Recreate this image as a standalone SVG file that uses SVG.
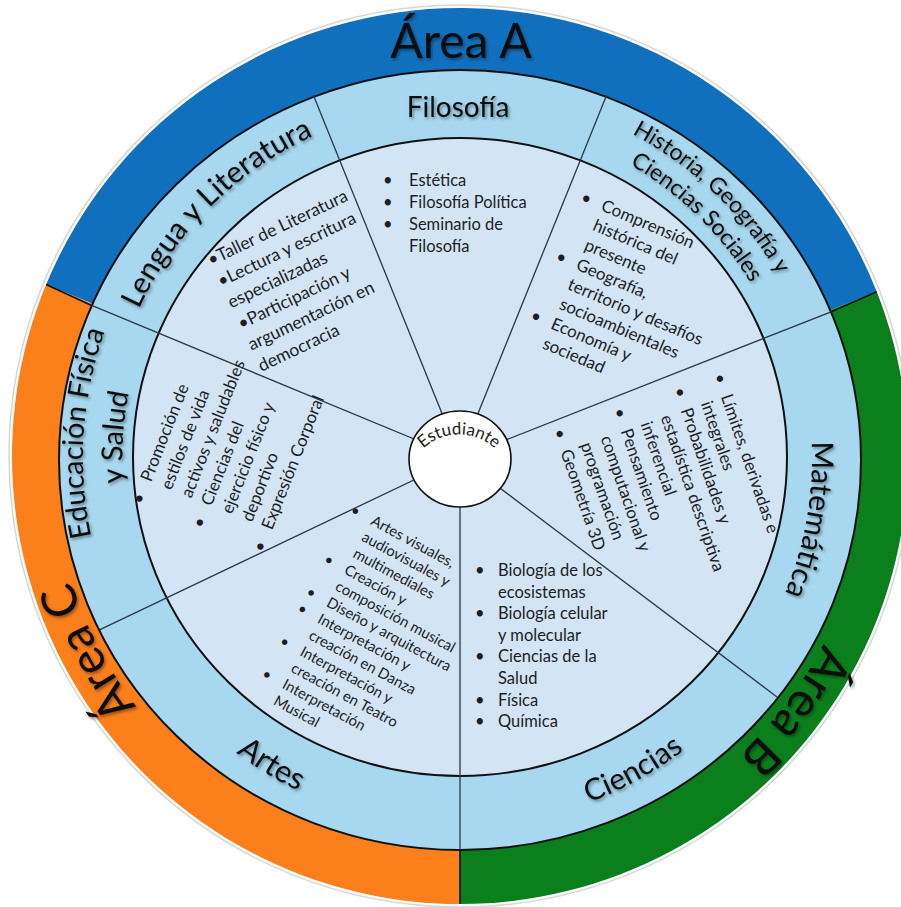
<svg xmlns="http://www.w3.org/2000/svg" width="901" height="907" viewBox="0 0 901 907">
<defs>
<style>
text{font-family:Lato,"Open Sans","Liberation Sans",sans-serif;}
.area{font-size:48px;fill:#0a0a0a;filter:url(#sh);}
.lbl{font-size:30px;fill:#111;filter:url(#sh);}
.it{font-size:17px;fill:#1e1e1e;}
.sm{font-size:14.8px;fill:#1e1e1e;}
.fl{font-size:16.5px;fill:#1e1e1e;}
.spoke{stroke:#2c3844;stroke-width:1.3;fill:none;}
.bound{stroke:#111;stroke-width:1.6;fill:none;}
.ring{stroke:#111;stroke-width:2;}
</style>
<filter id="sh" x="-20%" y="-20%" width="140%" height="160%">
<feDropShadow dx="1.5" dy="2" stdDeviation="1.4" flood-color="#000" flood-opacity="0.4"/>
</filter>
<path id="p-lengua" d="M107.5,425.9 A354,354 0 0 1 430.4,105.2"/>
<path id="p-hist1" d="M485.6,91.9 A367,367 0 0 1 825,419.6"/>
<path id="p-hist2" d="M486.5,120.1 A339,339 0 0 1 797.5,425.5"/>
<path id="p-mate" d="M764.8,282 A352,352 0 0 1 686.3,727.6"/>
<path id="p-cien" d="M453.6,825.9 A368,368 0 0 0 775.4,647.5"/>
<path id="p-artes" d="M134.5,634 A370,370 0 0 0 449.7,827.9"/>
<path id="p-edu1" d="M155.8,680.7 A377,377 0 0 1 188,196.9"/>
<path id="p-edu2" d="M188.3,659 A337,337 0 0 1 215.5,225.9"/>
<path id="p-areab" d="M867.4,436.6 A408,408 0 0 1 551.8,855.6"/>
<path id="p-areac" d="M303.9,834.9 A408,408 0 0 1 61.7,369.7"/>
<path id="p-est" d="M407.2,477.9 A52.6,52.6 0 0 1 510.8,477.9"/>
</defs>
<rect width="901" height="907" fill="#ffffff"/>

<circle cx="460" cy="456" r="451" fill="none" stroke="#d6d6d6" stroke-width="1.5"/>

<g id="area-a">
<path d="M460,456 L46.1,284.6 A448,448 0 0 1 876.8,291.8 Z" fill="#1170be"/>
</g>
<g id="area-b">
<path d="M460,456 L876.8,291.8 A448,448 0 0 1 460,904 Z" fill="#0b7f1c"/>
</g>
<g id="area-c">
<path d="M460,456 L460,904 A448,448 0 0 1 46.1,284.6 Z" fill="#fb7f1b"/>
</g>

<g id="rings">
<ellipse cx="460" cy="460" rx="401" ry="390" fill="#a8d8f0" class="ring"/>
<ellipse cx="460" cy="457" rx="327" ry="319" fill="#d3e4f5" class="ring"/>
</g>

<g id="connectors">
<line class="spoke" x1="460" y1="458" x2="313.3" y2="95"/>
<line class="spoke" x1="460" y1="458" x2="606.7" y2="95"/>
<line class="spoke" x1="460" y1="458" x2="831.7" y2="311.6"/>
<line class="spoke" x1="460" y1="458" x2="777" y2="696.9"/>
<line class="spoke" x1="460" y1="458" x2="460" y2="850"/>
<line class="spoke" x1="460" y1="458" x2="100" y2="629.7"/>
<line class="spoke" x1="460" y1="458" x2="91.1" y2="305.2"/>
<line class="bound" x1="831.7" y1="311.6" x2="876.8" y2="291.8"/>
<line class="bound" x1="460" y1="850" x2="460" y2="904"/>
<line class="bound" x1="91.1" y1="305.2" x2="46.1" y2="284.6"/>
</g>

<g id="estudiante">
<ellipse cx="460" cy="459" rx="51" ry="48" fill="#ffffff" stroke="#111" stroke-width="1.6"/>
<text font-size="17" fill="#1e1e1e"><textPath href="#p-est" startOffset="50%" text-anchor="middle">Estudiante</textPath></text>
</g>

<g id="area-a-label">
<text class="area" x="461" y="58" text-anchor="middle">Área A</text>
</g>
<g id="area-b-label">
<text class="area"><textPath href="#p-areab" startOffset="50%" text-anchor="middle">Área B</textPath></text>
</g>
<g id="area-c-label">
<text class="area"><textPath href="#p-areac" startOffset="50%" text-anchor="middle">Área C</textPath></text>
</g>

<g id="node-filosofia">
<text class="lbl" x="458" y="117" text-anchor="middle" style="font-size:28px">Filosofía</text>
<text class="fl" x="383" y="186">•</text><text class="fl" x="409" y="186">Estética</text>
<text class="fl" x="383" y="208">•</text><text class="fl" x="409" y="208">Filosofía Política</text>
<text class="fl" x="383" y="230">•</text><text class="fl" x="409" y="230">Seminario de</text>
<text class="fl" x="409" y="252">Filosofía</text>
</g>

<g id="node-lengua">
<text class="lbl"><textPath href="#p-lengua" startOffset="50%" text-anchor="middle">Lengua y Literatura</textPath></text>
<g transform="translate(211,266) rotate(-25.5)">
<text class="it" x="0" y="0" style="font-size:17.5px">•Taller de Literatura</text>
<text class="it" x="0" y="23.5" style="font-size:17.5px">•Lectura y escritura</text>
<text class="it" x="0" y="47" style="font-size:17.5px">especializadas</text>
<text class="it" x="0" y="70.5" style="font-size:17.5px">•Participación y</text>
<text class="it" x="0" y="94" style="font-size:17.5px">argumentación en</text>
<text class="it" x="0" y="117.5" style="font-size:17.5px">democracia</text>
</g>
</g>

<g id="node-historia">
<text class="lbl" style="font-size:23px"><textPath href="#p-hist1" startOffset="50%" text-anchor="middle">Historia, Geografía y</textPath></text>
<text class="lbl" style="font-size:23px"><textPath href="#p-hist2" startOffset="50%" text-anchor="middle">Ciencias Sociales</textPath></text>
<g transform="translate(600,210) rotate(23)">
<text class="it" x="-22" y="0">•</text><text class="it" x="0" y="0">Comprensión</text>
<text class="it" x="0" y="21.4">histórica del</text>
<text class="it" x="0" y="42.8">presente</text>
<text class="it" x="-22" y="64.2">•</text><text class="it" x="0" y="64.2">Geografía,</text>
<text class="it" x="0" y="85.6">territorio y desafíos</text>
<text class="it" x="0" y="107">socioambientales</text>
<text class="it" x="-22" y="128.4">•</text><text class="it" x="0" y="128.4">Economía y</text>
<text class="it" x="0" y="149.8">sociedad</text>
</g>
</g>

<g id="node-matematica">
<text class="lbl"><textPath href="#p-mate" startOffset="50%" text-anchor="middle">Matemática</textPath></text>
<g transform="translate(720.7,396.5) rotate(71)">
<text class="it" x="-22" y="0">•</text><text class="it" x="0" y="0">Límites, derivadas e</text>
<text class="it" x="0" y="21.2">integrales</text>
<text class="it" x="-22" y="42.4">•</text><text class="it" x="0" y="42.4">Probabilidades y</text>
<text class="it" x="0" y="63.6">estadística descriptiva</text>
<text class="it" x="0" y="84.8">inferencial</text>
<text class="it" x="-22" y="106">•</text><text class="it" x="0" y="106">Pensamiento</text>
<text class="it" x="0" y="127.2">computacional y</text>
<text class="it" x="0" y="148.4">programación</text>
<text class="it" x="-22" y="169.6">•</text><text class="it" x="0" y="169.6">Geometría 3D</text>
</g>
</g>

<g id="node-ciencias">
<text class="lbl"><textPath href="#p-cien" startOffset="50%" text-anchor="middle">Ciencias</textPath></text>
<text class="fl" x="475" y="576">•</text><text class="fl" x="498" y="576">Biología de los</text>
<text class="fl" x="498" y="598">ecosistemas</text>
<text class="fl" x="475" y="619">•</text><text class="fl" x="498" y="619">Biología celular</text>
<text class="fl" x="498" y="641">y molecular</text>
<text class="fl" x="475" y="662">•</text><text class="fl" x="498" y="662">Ciencias de la</text>
<text class="fl" x="498" y="684">Salud</text>
<text class="fl" x="475" y="706">•</text><text class="fl" x="498" y="706">Física</text>
<text class="fl" x="475" y="727">•</text><text class="fl" x="498" y="727">Química</text>
</g>

<g id="node-artes">
<text class="lbl" style="font-size:31px"><textPath href="#p-artes" startOffset="50%" text-anchor="middle">Artes</textPath></text>
<g transform="translate(369.7,524) rotate(28.4)">
<text class="sm" x="-23" y="0">•</text><text class="sm" x="0" y="0">Artes visuales,</text>
<text class="sm" x="0" y="18.6">audiovisuales y</text>
<text class="sm" x="0" y="37.2">multimediales</text>
<text class="sm" x="-23" y="55.8">•</text><text class="sm" x="0" y="55.8">Creación y</text>
<text class="sm" x="0" y="74.4">composición musical</text>
<text class="sm" x="-23" y="93">•</text><text class="sm" x="0" y="93">Diseño y arquitectura</text>
<text class="sm" x="-23" y="111.6">•</text><text class="sm" x="0" y="111.6">Interpretación y</text>
<text class="sm" x="0" y="130.2">creación en Danza</text>
<text class="sm" x="-23" y="148.8">•</text><text class="sm" x="0" y="148.8">Interpretación y</text>
<text class="sm" x="0" y="167.4">creación en Teatro</text>
<text class="sm" x="-23" y="186">•</text><text class="sm" x="0" y="186">Interpretación</text>
<text class="sm" x="0" y="204.6">Musical</text>
</g>
</g>

<g id="node-educacion">
<text class="lbl" style="font-size:29px"><textPath href="#p-edu1" startOffset="50%" text-anchor="middle">Educación Física</textPath></text>
<text class="lbl" style="font-size:29px"><textPath href="#p-edu2" startOffset="50%" text-anchor="middle">y Salud</textPath></text>
<g transform="translate(151,482.8) rotate(-68.4)">
<text class="it" x="-24" y="0">•</text><text class="it" x="0" y="0">Promoción de</text>
<text class="it" x="0" y="21.7">estilos de vida</text>
<text class="it" x="0" y="43.4">activos y saludables</text>
<text class="it" x="-24" y="65.1">•</text><text class="it" x="0" y="65.1">Ciencias del</text>
<text class="it" x="0" y="86.8">ejercicio físico y</text>
<text class="it" x="0" y="108.5">deportivo</text>
<text class="it" x="-24" y="130.2">•</text><text class="it" x="0" y="130.2">Expresión Corporal</text>
</g>
</g>
</svg>
